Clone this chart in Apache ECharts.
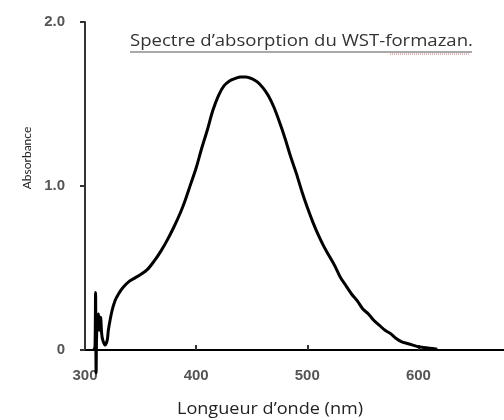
<!DOCTYPE html>
<html><head><meta charset="utf-8">
<script src="https://cdn.jsdelivr.net/npm/echarts@6/dist/echarts.min.js"></script>
<style>html,body{margin:0;padding:0;background:#fff}#c{width:504px;height:420px}</style>
</head><body><div id="c"></div>
<script>
var titleText = "Spectre d\u2019absorption du WST-formazan.";
var xName = "Longueur d\u2019onde (nm)";
var yName = "Absorbance";
var xTicks = [300, 400, 500, 600];
var yTicks = [0, 1.0, 2.0];
var wavelengths = [308, 309, 309.5, 310, 310.5, 312, 313, 314, 315, 316, 318, 320, 321, 324, 327, 330, 334, 340, 345, 350, 356, 362, 368, 374, 380, 386, 390, 395, 400, 405, 410, 415, 420, 425, 430, 435, 440, 445, 450, 455, 460, 465, 470, 475, 480, 485, 490, 495, 500, 505, 510, 515, 520, 525, 530, 535, 540, 545, 550, 555, 560, 565, 570, 575, 580, 585, 590, 595, 600, 605, 610, 617];
var absorbance = [0, 0.02, 0.35, -0.14, 0.1, 0.22, 0.12, 0.2, 0.1, 0.06, 0.03, 0.06, 0.12, 0.23, 0.3, 0.34, 0.38, 0.42, 0.44, 0.46, 0.49, 0.54, 0.6, 0.67, 0.75, 0.84, 0.91, 1.01, 1.11, 1.23, 1.34, 1.46, 1.55, 1.61, 1.64, 1.655, 1.665, 1.665, 1.655, 1.635, 1.6, 1.55, 1.48, 1.39, 1.29, 1.18, 1.08, 0.97, 0.87, 0.78, 0.7, 0.63, 0.57, 0.51, 0.44, 0.39, 0.34, 0.3, 0.25, 0.22, 0.18, 0.15, 0.12, 0.1, 0.07, 0.05, 0.04, 0.03, 0.02, 0.015, 0.01, 0.005];

var data = wavelengths.map(function (w, i) { return [w, absorbance[i]]; });
var chart = echarts.init(document.getElementById('c'));
chart.setOption({
  animation: false,
  backgroundColor: '#fff',
  graphic: [
    { type: 'text', x: 130, y: 41, scaleX: 1.16, style: { text: titleText, font: '16px "Open Sans"', fill: '#333', align: 'left', verticalAlign: 'middle' } },
    { type: 'line', shape: { x1: 130, y1: 52, x2: 472, y2: 52 }, style: { stroke: '#555', lineWidth: 1 } },
    { type: 'line', shape: { x1: 390, y1: 54, x2: 470, y2: 54 }, style: { stroke: '#d66', lineWidth: 1, lineDash: [1, 1] } },
    { type: 'text', x: 270, y: 409, scaleX: 1.13, style: { text: xName, font: '16px "Open Sans"', fill: '#222', align: 'center', verticalAlign: 'middle' } },
    { type: 'text', x: 27, y: 158, rotation: Math.PI / 2, style: { text: yName, font: '12px Lato', fill: '#222', align: 'center', verticalAlign: 'middle' } }
  ],
  grid: { left: 85, right: 0, top: 22, bottom: 70 },
  xAxis: {
    type: 'value', min: 300, max: 677, interval: 100,
    axisLine: { lineStyle: { color: '#000', width: 2 } },
    axisTick: { inside: true, length: 5, lineStyle: { color: '#333', width: 2 } },
    axisLabel: { margin: 18, fontFamily: 'Liberation Sans', fontSize: 15, fontWeight: 'bold', color: '#555',
      showMaxLabel: false,
      formatter: function (v) { return xTicks.indexOf(v) >= 0 ? String(v) : ''; } },
    splitLine: { show: false }
  },
  yAxis: {
    type: 'value', min: 0, max: 2, interval: 1,
    axisLine: { show: true, lineStyle: { color: '#333', width: 2 } },
    axisTick: { show: true, length: 5, lineStyle: { color: '#333', width: 2 } },
    axisLabel: { margin: 20, fontFamily: 'Liberation Sans', fontSize: 15, fontWeight: 'bold', color: '#555',
      formatter: function (v) { return v === 0 ? '0' : v.toFixed(1); } },
    splitLine: { show: false }
  },
  series: [{
    type: 'line', data: data, showSymbol: false, clip: false, smooth: 0.3,
    lineStyle: { color: '#000', width: 3 }
  }]
});
</script></body></html>
